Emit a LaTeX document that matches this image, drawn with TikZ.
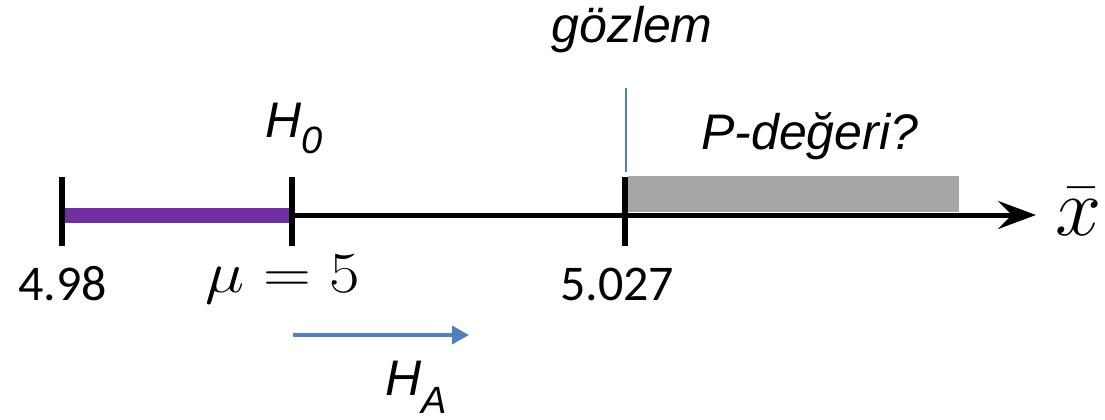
\documentclass[tikz,border=0pt]{standalone}
\usepackage[no-math]{fontspec}
\setmainfont{Liberation Sans}
\newfontfamily\calib{Carlito}
\usetikzlibrary{arrows.meta}
\definecolor{hpurple}{HTML}{7030A0}
\definecolor{hgrey}{HTML}{A6A6A6}
\definecolor{hblue}{HTML}{4F81BD}
\begin{document}
\begin{tikzpicture}[x=1pt,y=-1pt,
  lbl/.style={font=\fontsize{50}{60}\selectfont\itshape, inner sep=0, anchor=base west},
  num/.style={font=\calib\fontsize{50}{60}\selectfont, inner sep=0, anchor=base west},
  mathlbl/.style={font=\fontsize{20}{24}\selectfont, inner sep=0, anchor=base west},
  tickmark/.style={line width=6pt},
  axisline/.style={line width=5pt, -{Stealth[length=38pt,width=28pt,inset=14pt]}},
  blueline/.style={hblue, line width=1.5pt},
  bluearrow/.style={hblue, line width=4pt, -{Triangle[length=17pt,width=18pt]}}]
\useasboundingbox (0,0) rectangle (1105,420);
% coordinates
\coordinate (a0) at (62,215);
\coordinate (aend) at (1036,215);
\coordinate (mu) at (292,215);
\coordinate (obs) at (625,215);
\coordinate (obstop) at (626,88);
\coordinate (obsbot) at (626,172);
\coordinate (hastart) at (293,335);
\coordinate (haend) at (469,335);
% grey region
\fill[hgrey] (628,176) rectangle (959,212);
% axis
\draw[axisline] (a0) -- (aend);
\draw[hpurple, line width=15pt] (a0) -- (mu);
% ticks
\draw[tickmark] ([yshift=38pt]a0) -- ([yshift=-31pt]a0);
\draw[tickmark] ([yshift=38pt]mu) -- ([yshift=-31pt]mu);
\draw[tickmark] ([yshift=38pt]obs) -- ([yshift=-31pt]obs);
% observation line
\draw[blueline] (obstop) -- (obsbot);
% H_A arrow
\draw[bluearrow] (hastart) -- (haend);
% labels
\node[lbl, anchor=base] (gozlem) at (632,43) {gözlem};
\node[lbl] (h0) at (265,137) {H\raisebox{-16pt}{\fontsize{38}{40}\selectfont 0}};
\node[lbl] (pval) at (701,149) {P-değeri?};
\node[num] (n498) at (18,300) {4.98};
\node[num] (n5027) at (560,300) {5.027};
\node[mathlbl, xscale=3.2, yscale=2.8] (mulbl) at (205,292) {$\mu = 5$};
\node[mathlbl, scale=4] (xbar) at (1055,235) {$\bar{x}$};
\node[lbl] (ha) at (385,395) {H\raisebox{-18pt}{\fontsize{38}{40}\selectfont A}};
\end{tikzpicture}
\end{document}
